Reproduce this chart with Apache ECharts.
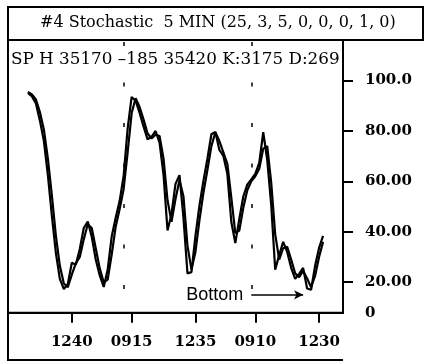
<!DOCTYPE html>
<html><head><meta charset="utf-8">
<script src="https://cdn.jsdelivr.net/npm/echarts@6/dist/echarts.min.js"></script>
<style>html,body{margin:0;padding:0;background:#fff}#c{width:425px;height:364px}</style>
</head><body><div id="c"></div>
<script>
const titleText = '#4 Stochastic  5 MIN (25, 3, 5, 0, 0, 0, 1, 0)';
const infoText = 'SP H 35170 \u2013185 35420 K:3175 D:269';
const barCount = 85;
const leadBars = 5;
const xTickIndex = [16, 31, 47, 62, 78];
const xTickLabels = ['1240', '0915', '1235', '0910', '1230'];
const yTickValues = [20, 40, 60, 80, 100];
const yLabelValues = [7.9, 20, 40, 60, 80, 100];
const yLabelTexts = ['0', '20.00', '40.00', '60.00', '80.00', '100.0'];
const dayBreaks = ['29', '61'];
const kValues = [95.1,93.7,90.9,84.1,76.0,62.5,46.3,31.7,21.3,17.3,19.3,27.7,26.9,33.2,41.5,44.1,38.0,29.0,22.7,18.1,
  25.0,38.1,45.6,52.3,62.3,80.9,93.5,92.0,87.2,81.7,76.7,77.7,80.0,75.4,62.6,40.5,47.1,59.0,62.5,45.5,
  23.5,24.0,38.4,50.4,60.2,69.0,78.7,79.6,72.5,70.1,63.0,43.9,35.5,45.1,54.0,58.7,60.8,63.0,67.3,79.5,
  68.5,50.7,25.0,30.8,36.0,32.0,25.7,21.3,23.3,25.7,17.5,17.0,26.5,33.6,38.4];
const dValues = [95.5,94.5,92.5,87.5,80.5,69.0,54.5,38.5,26.5,19.5,18.0,23.0,27.5,30.0,37.0,43.0,41.5,33.5,25.5,20.0,
  21.0,31.0,42.0,49.0,57.0,71.5,87.0,93.0,89.5,84.5,79.0,77.0,78.5,78.0,69.0,52.5,44.0,53.0,60.5,54.0,
  34.5,25.0,32.0,44.5,55.5,64.5,74.0,79.5,76.0,71.5,67.0,53.5,39.5,40.5,49.5,56.5,60.0,62.0,65.0,73.0,
  74.0,59.5,39.0,29.0,33.5,34.0,29.0,23.5,22.0,24.5,21.5,18.0,22.5,30.0,36.0];
const bottomNote = {text: 'Bottom', from: '61', to: '74', level: 15};

const categories = Array.from({length: barCount}, (_, i) => String(i));
function pad(arr) {
  const out = new Array(leadBars).fill(null).concat(arr);
  while (out.length < barCount) out.push(null);
  return out;
}
const serif = 'DejaVu Serif';
const chart = echarts.init(document.getElementById('c'), null, {renderer: 'canvas'});
chart.setOption({
  animation: false,
  backgroundColor: '#fff',
  grid: {left: 8, right: 82, top: 40, bottom: 51.3, show: true, borderColor: '#000', borderWidth: 2, backgroundColor: 'transparent'},
  xAxis: {
    type: 'category', data: categories, boundaryGap: false,
    axisLine: {show: true, lineStyle: {color: '#000', width: 2}},
    axisTick: {show: true, inside: false, length: 10, lineStyle: {color: '#000', width: 2},
      interval: (i) => xTickIndex.includes(i)},
    axisLabel: {interval: (i) => xTickIndex.includes(i), margin: 22,
      formatter: (v, i) => { const k = xTickIndex.indexOf(Number(v)); return k >= 0 ? xTickLabels[k] : ''; },
      color: '#000', fontFamily: serif, fontSize: 15, fontWeight: 'bold'},
    splitLine: {show: false}
  },
  yAxis: {
    type: 'value', position: 'right', min: 7.9, max: 116.1,
    axisLine: {show: true, lineStyle: {color: '#000', width: 2}},
    axisTick: {show: true, inside: false, length: 10, customValues: yTickValues, lineStyle: {color: '#000', width: 2}},
    axisLabel: {customValues: yLabelValues, margin: 22, color: '#000', fontFamily: serif, fontSize: 15, fontWeight: 'bold',
      formatter: (v) => { const k = yLabelValues.indexOf(v); return k >= 0 ? yLabelTexts[k] : ''; }},
    splitLine: {show: false}
  },
  series: [
    {type: 'line', data: pad(kValues), showSymbol: false, lineStyle: {color: '#000', width: 2.2}, connectNulls: false,
      markLine: {silent: true, symbol: ['none', 'none'], label: {show: false},
        lineStyle: {color: '#000', width: 1.5, type: [4, 36.5], dashOffset: 16.8},
        data: dayBreaks.map(d => ({xAxis: d}))}},
    {type: 'line', data: pad(dValues), showSymbol: false, lineStyle: {color: '#000', width: 2.2},
      markLine: {silent: true, symbol: ['none', 'arrow'], symbolSize: [7, 9],
        lineStyle: {color: '#000', width: 1.5, type: 'solid'},
        label: {show: true, position: 'start', formatter: bottomNote.text, distance: 8,
          color: '#000', fontFamily: 'Liberation Sans', fontSize: 18},
        data: [[{coord: [bottomNote.from, bottomNote.level]}, {coord: [bottomNote.to, bottomNote.level]}]]}}
  ],
  graphic: [
    {type: 'polyline', shape: {points: [[8, 40], [8, 7], [423, 7], [423, 40], [8, 40]]}, style: {stroke: '#000', lineWidth: 2, fill: null}},
    {type: 'polyline', shape: {points: [[8, 312], [8, 360], [343, 360]]}, style: {stroke: '#000', lineWidth: 2, fill: null}},
    {type: 'text', left: 40, top: 15, style: {text: titleText, font: '16px "DejaVu Serif"', fill: '#000'}},
    {type: 'text', left: 11, top: 51, style: {text: infoText, font: '16.8px "DejaVu Serif"', fill: '#000'}}
  ]
});
</script></body></html>
